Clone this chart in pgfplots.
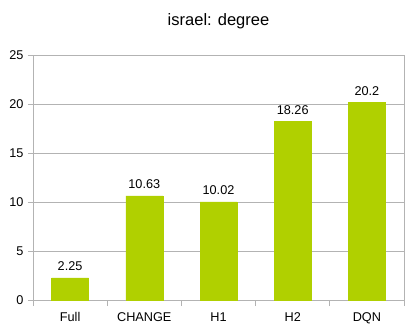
\documentclass[border=0pt]{standalone}
\usepackage{fontspec}
\setmainfont{Liberation Sans}
\usepackage{pgfplots}
\pgfplotsset{compat=1.18}
\definecolor{bargreen}{RGB}{176,208,0}
\definecolor{gridgray}{RGB}{179,179,179}
\begin{document}
\begin{tikzpicture}
\useasboundingbox (-33pt,-32pt) rectangle (378pt,300pt);
\begin{axis}[
    scale only axis,
    width=371pt, height=245pt,
    xmin=-0.5, xmax=4.5,
    ymin=0, ymax=25,
    ytick={0,5,...,25},
    xtick={0,1,2,3,4},
    xticklabels={Full,CHANGE,H1,H2,DQN},
    minor xtick={-0.5,0.5,...,4.5},
    major x tick style={draw=none},
    minor tick length=6pt,
    major tick length=5pt,
    tick align=outside,
    tick pos=left,
    tick style={gridgray, line width=0.8pt},
    axis line style={gridgray, line width=0.8pt},
    ymajorgrids,
    grid style={gridgray, line width=0.8pt},
    title={israel: degree},
    title style={font=\fontsize{16.5}{19}\selectfont, at={(0.5,1)}, yshift=23pt, anchor=base},
    ticklabel style={font=\fontsize{12.7}{15}\selectfont},
    /pgf/number format/assume math mode=true,
    xticklabel style={text height=9.2pt, text depth=0pt, yshift=-4pt},
    yticklabel style={xshift=-1pt},
    nodes near coords,
    nodes near coords style={font=\fontsize{12.7}{15}\selectfont, black, anchor=base, yshift=7pt},
    point meta=explicit symbolic,
]
\addplot[ybar, bar width=37pt, fill=bargreen, draw=bargreen] coordinates {
    (0,2.25) [2.25]
    (1,10.63) [10.63]
    (2,10.02) [10.02]
    (3,18.26) [18.26]
    (4,20.2) [20.2]
};
\end{axis}
\end{tikzpicture}
\end{document}
